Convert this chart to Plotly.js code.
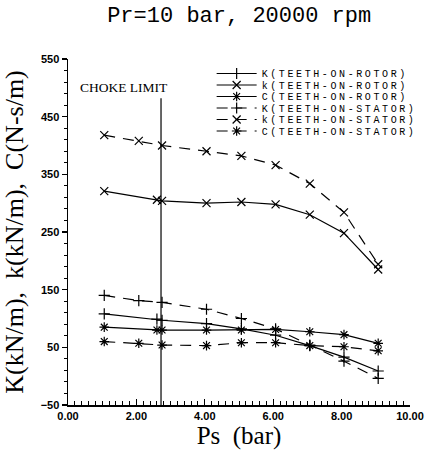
<!DOCTYPE html>
<html>
<head>
<meta charset="utf-8">
<script src="https://cdn.plot.ly/plotly-3.0.1.min.js"></script>
<style>html,body{margin:0;padding:0;background:#fff;}#chart{width:431px;height:450px;}</style>
</head>
<body>
<div id="chart"></div>
<script>
// Supply pressure Ps (bar)
const xRotor  = [1.06, 2.60, 2.75, 4.05, 5.07, 6.07, 7.07, 8.07, 9.07];
const xStator = [1.06, 2.07, 2.75, 4.05, 5.07, 6.07, 7.07, 8.07, 9.07];

// Teeth-on-rotor
const K_rotor = [108, 99, 97, 91, 82, 71, 53, 33, 9];
const k_rotor = [321, 306, 304, 300, 302, 298, 280, 248, 185];
const C_rotor = [85, 80, 80, 80, 80, 81, 77, 72, 57];

// Teeth-on-stator
const K_stator = [140, 131, 128, 116, 100, 82, 54, 26, -4];
const k_stator = [418, 408, 400, 390, 382, 366, 334, 284, 194];
const C_stator = [60, 57, 54, 53, 58, 58, 53, 51, 44];

const names = [
  'K(TEETH-ON-ROTOR)', 'k(TEETH-ON-ROTOR)', 'C(TEETH-ON-ROTOR)',
  'K(TEETH-ON-STATOR)', 'k(TEETH-ON-STATOR)', 'C(TEETH-ON-STATOR)'
];

// Choke limit marker line
const chokeX = [2.72, 2.72];
const chokeY = [-50, 482];
const chokeLabel = 'CHOKE LIMIT';

const xTickVals = [0, 2, 4, 6, 8, 10];
const yTickVals = [-50, 50, 150, 250, 350, 450, 550];

function tr(x, y, name, symbol, dash) {
  return {
    x: x, y: y, name: name, type: 'scatter', mode: 'lines+markers',
    line: {color: '#000', width: 1.2, dash: dash},
    marker: {symbol: symbol, size: 8, color: '#000', line: {color: '#000', width: 1.2}}
  };
}

const traces = [
  tr(xRotor, K_rotor, names[0], 'cross-thin-open', 'solid'),
  tr(xRotor, k_rotor, names[1], 'x-thin-open', 'solid'),
  tr(xRotor, C_rotor, names[2], 'asterisk-open', 'solid'),
  tr(xStator, K_stator, names[3], 'cross-thin-open', '11px,8px'),
  tr(xStator, k_stator, names[4], 'x-thin-open', '11px,8px'),
  tr(xStator, C_stator, names[5], 'asterisk-open', '11px,8px'),
  {x: chokeX, y: chokeY, type: 'scatter', mode: 'lines', showlegend: false,
   hoverinfo: 'skip', line: {color: '#000', width: 1.2}}
];

const tickFont = {family: 'Liberation Sans, Arial, sans-serif', size: 11, color: '#000', weight: 'bold'};

const layout = {
  width: 431, height: 450,
  margin: {l: 68, r: 21, t: 59, b: 45},
  paper_bgcolor: '#fff', plot_bgcolor: '#fff',
  title: {
    text: 'Pr=10 bar, 20000 rpm',
    font: {family: 'Liberation Mono, Courier New, monospace', size: 22, color: '#000'},
    x: 0.555, xanchor: 'center', y: 0.985, yanchor: 'top', yref: 'container'
  },
  xaxis: {
    range: [0, 10], tickvals: xTickVals, tickformat: '.2f',
    ticks: 'inside', ticklen: 6, tickwidth: 1.2, tickcolor: '#000',
    minor: {dtick: 0.2, tick0: 0, ticks: 'inside', ticklen: 4, tickcolor: '#000', tickwidth: 1},
    showline: true, linecolor: '#000', linewidth: 1.5, mirror: false,
    showgrid: false, zeroline: false,
    tickfont: tickFont,
    title: {text: 'Ps  (bar)', standoff: 1,
            font: {family: 'Liberation Serif, Times New Roman, serif', size: 25, color: '#000'}}
  },
  yaxis: {
    range: [-50, 550], tickvals: yTickVals,
    ticks: 'outside', ticklen: 5, tickwidth: 1.2, tickcolor: '#000',
    minor: {dtick: 20, tick0: -50, ticks: 'outside', ticklen: 3, tickcolor: '#000', tickwidth: 1},
    showline: true, linecolor: '#000', linewidth: 1.5, mirror: false,
    showgrid: false, zeroline: false,
    tickfont: tickFont,
    title: {text: 'K(kN/m),  k(kN/m),  C(N-s/m)', standoff: 9,
            font: {family: 'Liberation Serif, Times New Roman, serif', size: 26, color: '#000'}}
  },
  showlegend: true,
  legend: {
    x: 0.42, xanchor: 'left', y: 1.0, yanchor: 'top',
    bgcolor: 'rgba(255,255,255,0)', borderwidth: 0,
    font: {family: 'Liberation Mono, Courier New, monospace', size: 10, color: '#000'},
    itemwidth: 40, tracegroupgap: 0
  },
  annotations: [{
    x: 0.3, y: 501, xref: 'x', yref: 'y', text: chokeLabel, showarrow: false,
    xanchor: 'left', yanchor: 'middle',
    font: {family: 'Liberation Serif, Times New Roman, serif', size: 13.5, color: '#000'}
  }]
};

Plotly.newPlot('chart', traces, layout, {staticPlot: true, displayModeBar: false}).then(function () {
  // compact legend rows and widen lettering to match the original legend
  const legend = document.querySelector('.legend');
  if (legend) {
    legend.querySelectorAll('[clip-path]').forEach(function (el) { el.removeAttribute('clip-path'); });
  }
  const items = document.querySelectorAll('.legend .traces');
  const spacing = 11.5;
  let y0 = null;
  items.forEach(function (g, i) {
    const m = /translate\(\s*([-\d.]+)[ ,]+([-\d.]+)\s*\)/.exec(g.getAttribute('transform') || '');
    if (!m) return;
    if (y0 === null) y0 = parseFloat(m[2]);
    g.setAttribute('transform', 'translate(' + m[1] + ',' + (y0 + i * spacing) + ')');
    const t = g.querySelector('text.legendtext');
    if (t) t.style.letterSpacing = '2.6px';
  });
});
</script>
</body>
</html>
